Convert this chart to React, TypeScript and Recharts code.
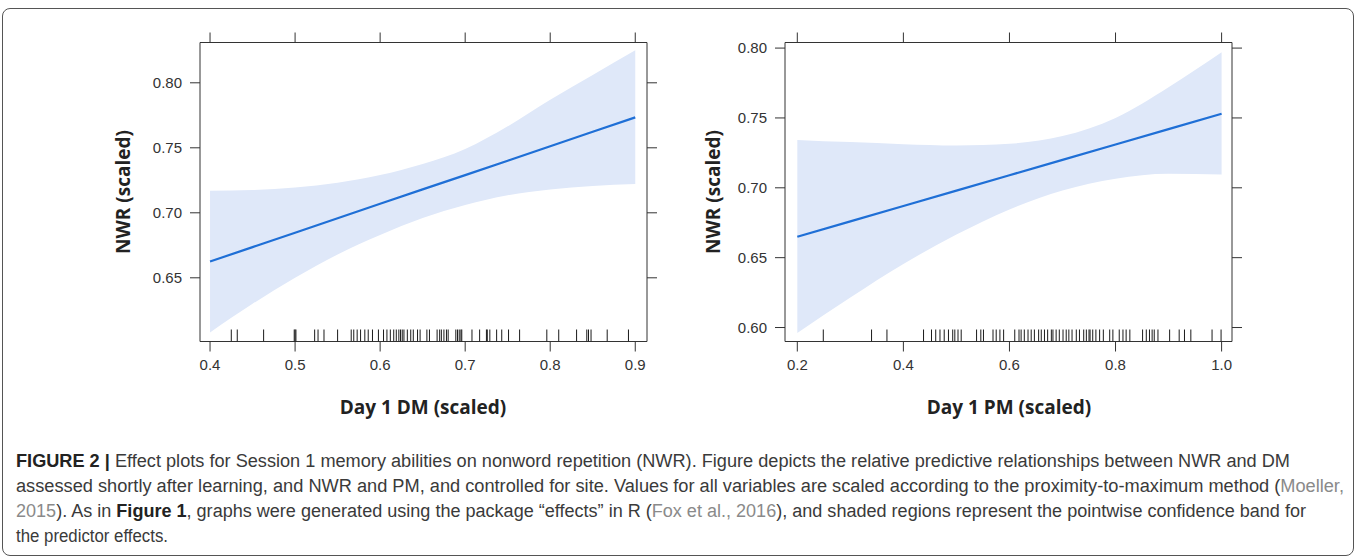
import React from 'react';
import { ComposedChart, XAxis, YAxis, Area, Line, Scatter } from 'recharts';

// ---- Left panel: Day 1 DM ----
const dmX = [0.4, 0.45, 0.5, 0.55, 0.6, 0.65, 0.7, 0.75, 0.8, 0.85, 0.9];
const dmFit = [0.6625, 0.6736, 0.6847, 0.6958, 0.7069, 0.718, 0.729, 0.7401, 0.7512, 0.7623, 0.7734];
const dmLower = [0.608, 0.63, 0.65, 0.668, 0.683, 0.696, 0.706, 0.7135, 0.718, 0.7207, 0.7222];
const dmUpper = [0.717, 0.7175, 0.7195, 0.7232, 0.729, 0.7375, 0.749, 0.7665, 0.787, 0.806, 0.825];
const dmRug = [
  0.425, 0.432, 0.463, 0.499, 0.5, 0.501, 0.523, 0.527, 0.534, 0.55, 0.566, 0.569, 0.573, 0.577,
  0.582, 0.586, 0.591, 0.598, 0.604, 0.608, 0.612, 0.616, 0.619, 0.622, 0.624, 0.626, 0.628, 0.632,
  0.636, 0.639, 0.644, 0.647, 0.655, 0.658, 0.667, 0.67, 0.672, 0.675, 0.678, 0.68, 0.689, 0.691,
  0.693, 0.695, 0.696, 0.708, 0.717, 0.725, 0.726, 0.729, 0.737, 0.743, 0.751, 0.764, 0.796, 0.81,
  0.831, 0.843, 0.845, 0.848, 0.867, 0.892,
];
const dmXTicks = [0.4, 0.5, 0.6, 0.7, 0.8, 0.9];
const dmYTicks = [0.65, 0.7, 0.75, 0.8];

// ---- Right panel: Day 1 PM ----
const pmX = [0.2, 0.3, 0.4, 0.5, 0.6, 0.7, 0.8, 0.9, 1.0];
const pmFit = [0.665, 0.676, 0.687, 0.698, 0.709, 0.72, 0.731, 0.742, 0.753];
const pmLower = [0.596, 0.6215, 0.6455, 0.6665, 0.6845, 0.698, 0.7065, 0.71, 0.7095];
const pmUpper = [0.7343, 0.7327, 0.7312, 0.7303, 0.7315, 0.737, 0.75, 0.772, 0.797];
const pmRug = [
  0.249, 0.34, 0.369, 0.438, 0.453, 0.461, 0.469, 0.477, 0.485, 0.493, 0.497, 0.503, 0.509, 0.538,
  0.546, 0.551, 0.569, 0.575, 0.582, 0.589, 0.61, 0.618, 0.622, 0.628, 0.635, 0.641, 0.647, 0.655,
  0.66, 0.666, 0.672, 0.679, 0.682, 0.688, 0.694, 0.701, 0.707, 0.712, 0.718, 0.726, 0.732, 0.74,
  0.745, 0.75, 0.752, 0.757, 0.763, 0.77, 0.777, 0.789, 0.795, 0.807, 0.814, 0.82, 0.827, 0.851,
  0.858, 0.864, 0.869, 0.873, 0.88, 0.902, 0.92, 0.93, 0.942, 0.982, 0.999,
];
const pmXTicks = [0.2, 0.4, 0.6, 0.8, 1.0];
const pmYTicks = [0.6, 0.65, 0.7, 0.75, 0.8];

const AXIS = '#333';
const TICK_FONT = { fill: '#333', fontSize: 15, fontFamily: '"Liberation Sans", Arial, sans-serif' };

const NoLabel = () => <g />;

const RugTick = (props: any) => {
  const { cx, cy } = props;
  if (cx == null || cy == null) return null;
  return <line x1={cx} x2={cx} y1={cy} y2={cy - 12} stroke="#1a1a1a" strokeWidth={1} />;
};

type PanelProps = {
  xs: number[]; fit: number[]; lo: number[]; hi: number[]; rug: number[];
  xDomain: [number, number]; yDomain: [number, number];
  xTicks: number[]; yTicks: number[];
};

function Panel({ xs, fit, lo, hi, rug, xDomain, yDomain, xTicks, yTicks }: PanelProps) {
  const data = xs.map((x, i) => ({ x, fit: fit[i], lo: lo[i], hi: hi[i] }));
  const rugData = rug.map((x) => ({ x, y: yDomain[0] }));
  return (
    <ComposedChart
      width={700}
      height={440}
      data={data}
      margin={{ top: 12.5, right: 23, bottom: 68.5, left: 140 }}
    >
      <XAxis
        xAxisId="b" type="number" dataKey="x" domain={xDomain} allowDataOverflow
        ticks={xTicks} tickSize={10} tickMargin={8} stroke={AXIS} height={30}
        tick={TICK_FONT} tickFormatter={(v: number) => v.toFixed(1)}
      />
      <XAxis
        xAxisId="t" orientation="top" type="number" dataKey="x" domain={xDomain} allowDataOverflow
        ticks={xTicks} tickSize={10} stroke={AXIS} height={30} tick={NoLabel}
      />
      <YAxis
        yAxisId="l" type="number" dataKey="y" domain={yDomain} allowDataOverflow
        ticks={yTicks} tickSize={10} tickMargin={8} stroke={AXIS} width={60}
        tick={TICK_FONT} tickFormatter={(v: number) => v.toFixed(2)}
      />
      <YAxis
        yAxisId="r" orientation="right" type="number" dataKey="y" domain={yDomain} allowDataOverflow
        ticks={yTicks} tickSize={10} stroke={AXIS} width={30} tick={NoLabel}
      />
      <Area
        xAxisId="b" yAxisId="l" type="monotone"
        dataKey={(d: any) => [d.lo, d.hi]}
        fill="#dfe8f9" fillOpacity={1} stroke="none" isAnimationActive={false}
      />
      <Line
        xAxisId="b" yAxisId="l" type="linear" dataKey="fit"
        stroke="#1f6fd6" strokeWidth={2.2} dot={false} isAnimationActive={false}
      />
      <Scatter
        xAxisId="b" yAxisId="l" data={rugData} dataKey="y"
        shape={RugTick} isAnimationActive={false}
      />
    </ComposedChart>
  );
}

const labelFont: React.CSSProperties = {
  position: 'absolute',
  fontFamily: '"Open Sans", "DejaVu Sans", sans-serif',
  fontWeight: 700,
  fontSize: 19,
  color: '#222',
  whiteSpace: 'nowrap',
};

const capFont = '"Liberation Sans", Arial, sans-serif';

export default function App() {
  return (
    <div style={{ position: 'absolute', left: 0, top: 0, width: 1357, height: 558, background: '#fff' }}>
      <div
        style={{
          position: 'absolute', left: 2, top: 8, width: 1352, height: 548,
          border: '1px solid #555', borderRadius: 8, boxSizing: 'border-box',
        }}
      />
      <div style={{ position: 'absolute', left: 0, top: 0 }}>
        <Panel
          xs={dmX} fit={dmFit} lo={dmLower} hi={dmUpper} rug={dmRug}
          xDomain={[0.3882, 0.9138]} yDomain={[0.601, 0.831]}
          xTicks={dmXTicks} yTicks={dmYTicks}
        />
      </div>
      <div style={{ position: 'absolute', left: 585, top: 0 }}>
        <Panel
          xs={pmX} fit={pmFit} lo={pmLower} hi={pmUpper} rug={pmRug}
          xDomain={[0.1768, 1.0196]} yDomain={[0.59, 0.804]}
          xTicks={pmXTicks} yTicks={pmYTicks}
        />
      </div>

      <div style={{ ...labelFont, left: 423, top: 407, transform: 'translate(-50%, -50%)' }}>Day 1 DM (scaled)</div>
      <div style={{ ...labelFont, left: 1009, top: 407, transform: 'translate(-50%, -50%)' }}>Day 1 PM (scaled)</div>
      <div style={{ ...labelFont, left: 123, top: 192, transform: 'translate(-50%, -50%) rotate(-90deg)' }}>NWR (scaled)</div>
      <div style={{ ...labelFont, left: 713, top: 192, transform: 'translate(-50%, -50%) rotate(-90deg)' }}>NWR (scaled)</div>

      <svg width={1357} height={120} style={{ position: 'absolute', left: 0, top: 438 }}>
        <g fontFamily={capFont} fontSize={18} fill="#3a3a3a">
          <text x={16} y={29} textLength={1274} lengthAdjust="spacingAndGlyphs">
            <tspan fontWeight={700} fill="#222">FIGURE 2 |</tspan>
            <tspan> Effect plots for Session 1 memory abilities on nonword repetition (NWR). Figure depicts the relative predictive relationships between NWR and DM</tspan>
          </text>
          <text x={16} y={54} textLength={1328} lengthAdjust="spacingAndGlyphs">
            assessed shortly after learning, and NWR and PM, and controlled for site. Values for all variables are scaled according to the proximity-to-maximum method (<tspan fill="#8a8a8a">Moeller,</tspan>
          </text>
          <text x={16} y={79} textLength={1290} lengthAdjust="spacingAndGlyphs">
            <tspan fill="#8a8a8a">2015</tspan>). As in <tspan fontWeight={700} fill="#222">Figure 1</tspan>, graphs were generated using the package “effects” in R (<tspan fill="#8a8a8a">Fox et al., 2016</tspan>), and shaded regions represent the pointwise confidence band for
          </text>
          <text x={16} y={104} textLength={152} lengthAdjust="spacingAndGlyphs">the predictor effects.</text>
        </g>
      </svg>
    </div>
  );
}
